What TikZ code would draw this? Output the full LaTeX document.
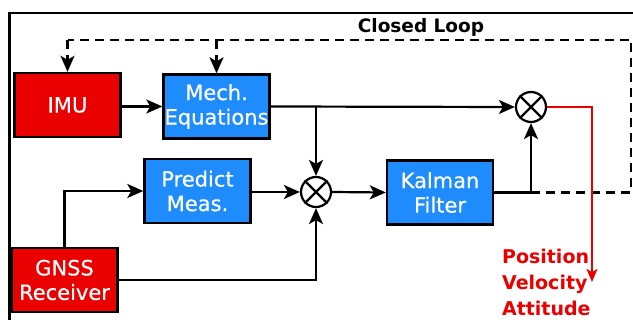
\documentclass[tikz,border=0pt]{standalone}
\usepackage{fontspec}
\setmainfont{DejaVu Sans}
\newfontfamily\blockfont[FakeBold=0.5]{DejaVu Sans}
\usetikzlibrary{arrows.meta}

\definecolor{sensorred}{RGB}{235,0,0}
\definecolor{procblue}{RGB}{30,140,252}
\definecolor{outred}{RGB}{235,0,0}

\begin{document}
\begin{tikzpicture}[x=1pt,y=-1pt,line width=2.2pt,
  >={Stealth[length=16pt,width=14pt,inset=4pt]},
  block/.style={draw=black,line width=2.4pt,text=white,align=center,
    minimum width=106pt,minimum height=64pt,inner sep=0pt,
    font=\blockfont\fontsize{21}{24.5}\selectfont},
  sensor/.style={block,fill=sensorred},
  process/.style={block,fill=procblue},
  mixer/.style={draw,circle,minimum size=30pt,inner sep=0pt},
  feedback/.style={dash pattern=on 9pt off 6pt},
  outline/.style={draw=outred,line width=1.7pt,
    >={Stealth[length=13pt,width=11pt,inset=3pt]}}]
  \useasboundingbox (0,0) rectangle (633,320);

  % frame
  \draw (9.5,322) -- (9.5,13) -- (635,13);
  \node[font=\bfseries\fontsize{18.5}{20}\selectfont] (looplabel) at (421,27) {Closed Loop};

  % blocks
  \node[sensor] (imu) at (67.5,105) {IMU};
  \node[process] (mech) at (216.5,106.5) {Mech.\\Equations};
  \node[process] (predict) at (197.5,191) {Predict\\Meas.};
  \node[sensor] (gnss) at (64.5,280) {GNSS\\Receiver};
  \node[process] (kalman) at (440,192.5) {Kalman\\Filter};

  % mixers
  \node[mixer] (mixnav) at (531,107) {};
  \node[mixer] (mixmeas) at (316,192) {};
  \foreach \m in {mixnav,mixmeas} {
    \draw (\m.north west) -- (\m.south east);
    \draw (\m.north east) -- (\m.south west);
  }

  % signal flow
  \draw[->] (imu.east |- mech) -- (mech.west);
  \draw[->] (mech.east) -- (mixnav.west);
  \draw[->] (mech.east -| mixmeas) -- (mixmeas.north);
  \draw[->] (gnss.north) |- (predict.west);
  \draw[->] (predict.east |- mixmeas) -- (mixmeas.west);
  \draw[->] (gnss.east) -| (mixmeas.south);
  \draw[->] (mixmeas.east) -- (kalman.west);
  \draw[->] (kalman.east) -| (mixnav.south);

  % closed loop
  \coordinate (tap) at (kalman.east -| mixnav);
  \coordinate (loopbr) at (631,192.5);
  \coordinate (looptr) at (631,40);
  \coordinate (looptl) at (67.5,40);
  \draw[feedback] (tap) -- (loopbr) -- (looptr) -- (looptl);
  \draw[feedback,->] (imu |- looptl) -- (imu.north);
  \draw[feedback,->] (mech |- looptl) -- (mech.north);

  % navigation output
  \coordinate (navout) at (592,282);
  \draw[outline,->] (mixnav.east) -| (navout);
  \node[anchor=west,align=left,text=outred,inner sep=0pt,
    font=\bfseries\fontsize{19}{26}\selectfont] (states) at (501,282)
    {Position\\Velocity\\Attitude};
\end{tikzpicture}
\end{document}
